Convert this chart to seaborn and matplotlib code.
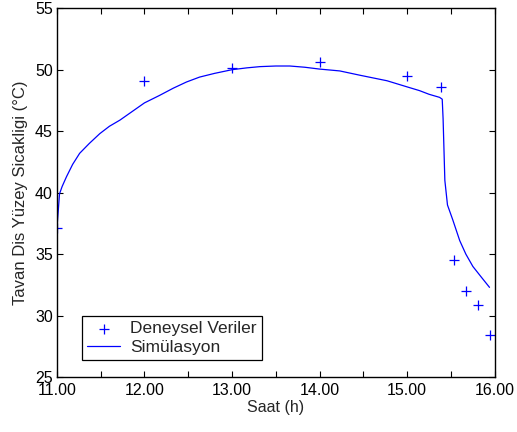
import matplotlib
matplotlib.use("Agg")
import matplotlib.pyplot as plt
import seaborn as sns
import pandas as pd

# Measured roof surface temperature
exp_hours = [11.00, 12.00, 13.00, 14.00, 15.00, 15.39, 15.53, 15.67, 15.81, 15.94]
exp_temps = [37.1, 49.1, 50.1, 50.6, 49.5, 48.6, 34.5, 32.0, 30.9, 28.4]

# Simulated roof surface temperature
sim_hours = [11.00, 11.03, 11.06, 11.11, 11.18, 11.26, 11.37, 11.49, 11.60, 11.72,
             11.86, 12.00, 12.17, 12.33, 12.48, 12.63, 12.80, 13.00, 13.17, 13.32,
             13.50, 13.66, 13.83, 14.00, 14.23, 14.46, 14.77, 15.00, 15.14, 15.25,
             15.37, 15.40, 15.41, 15.42, 15.43, 15.46, 15.52, 15.60, 15.67, 15.75,
             15.85, 15.94]
sim_temps = [37.0, 39.9, 40.5, 41.3, 42.3, 43.2, 44.0, 44.8, 45.4, 45.9,
             46.6, 47.3, 47.9, 48.5, 49.0, 49.4, 49.7, 50.0, 50.15, 50.25,
             50.3, 50.3, 50.2, 50.05, 49.9, 49.55, 49.1, 48.6, 48.3, 48.0,
             47.75, 47.6, 46.0, 43.5, 41.0, 39.0, 37.8, 36.1, 35.0, 34.0,
             33.1, 32.3]

x_ticks = [11, 12, 13, 14, 15, 16]
y_ticks = [25, 30, 35, 40, 45, 50, 55]

sns.set_style("ticks")
plt.rcParams["font.family"] = ["Liberation Sans", "DejaVu Sans"]
plt.rcParams["xtick.direction"] = "in"
plt.rcParams["ytick.direction"] = "in"

exp_df = pd.DataFrame({"Saat": exp_hours, "T": exp_temps})
sim_df = pd.DataFrame({"Saat": sim_hours, "T": sim_temps})

fig = plt.figure(figsize=(5.17, 4.32), dpi=100)
ax = fig.add_axes([0.110, 0.127, 0.847, 0.854])

sns.scatterplot(data=exp_df, x="Saat", y="T", ax=ax, marker="+", s=60,
                color="#0000ff", linewidth=0.9, label="Deneysel Veriler")
sns.lineplot(data=sim_df, x="Saat", y="T", ax=ax, color="#0000ff",
             linewidth=0.9, estimator=None, sort=False, label="Simülasyon")

ax.set_xlim(11, 16)
ax.set_ylim(25, 55)
ax.set_xticks(x_ticks)
ax.set_xticklabels([f"{v:.2f}" for v in x_ticks])
ax.set_xticks([11.5, 12.5, 13.5, 14.5, 15.5], minor=True)
ax.set_yticks(y_ticks)
ax.tick_params(which="both", top=True, right=True, direction="in",
               labelsize=11.5, width=0.8, colors="black")
ax.tick_params(which="major", length=4)
ax.tick_params(which="minor", length=4)
ax.tick_params(axis="x", pad=4)
ax.tick_params(axis="y", pad=3)
for sp in ax.spines.values():
    sp.set_linewidth(1.0)
    sp.set_color("black")

ax.set_xlabel("Saat (h)", fontsize=11.5, labelpad=2)
ax.set_ylabel("Tavan Dis Yüzey Sicakligi (°C)", fontsize=12, labelpad=5)

leg = ax.legend(loc="lower left", bbox_to_anchor=(0.057, 0.046),
                borderaxespad=0, fontsize=12.5, frameon=True, fancybox=False,
                edgecolor="black", framealpha=1, handlelength=1.9,
                borderpad=0.3, labelspacing=0.2, handletextpad=0.6)
leg.get_frame().set_linewidth(0.9)

fig.savefig("out.png", dpi=100)
